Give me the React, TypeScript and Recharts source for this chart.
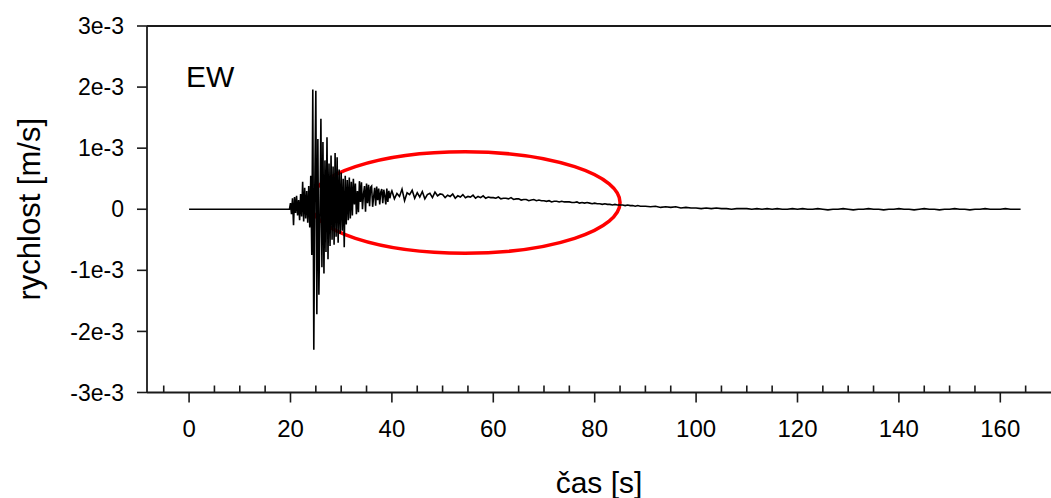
import { LineChart, Line, XAxis, YAxis, ReferenceLine, ReferenceArea } from 'recharts';

const FONT = '"Liberation Sans", Arial, Helvetica, sans-serif';
const INK = '#1a1a1a';

// trace samples are in units of 1e-5 m/s
const VALUE_UNIT = 1e-5;

// before the first arrival the record is flat
const quietTimes = [0, 19.8];
const quietValues = [0, 0];

// onset and strongest shaking, one sample every 0.2 s from 20 s
const burstStart = 20;
const burstStep = 0.2;
const burstValues = [
    10, -8, 18, -26, 20, -6, 22, -10, 15, -18,
    25, -12, 45, -20, 35, -15, 30, -22, 38, -30,
    55, -75, 196, -230, 40, 194, -172, 115, -140, -20,
    148, -95, 110, -105, 80, -70, 118, -82, 75, -60,
    88, -50, 70, -58, 92, -45, 85, -55, 65, -40,
    60, -35, 50, -62, 55, -25, 48, -18, 52, -15,
    45, -10, 50, 8, 42, -8, 30, -5, 46, 12,
    44, 0, 25, 38, -4, 42, 10, 40, 5, 36,
    38, 4, 20, 35, 6, 37, 15, 34, 8, 28,
    33, 10, 32, 22, 8, 34, 12, 30, 18, 26,
];

// slow coda, one sample every 0.5 s from 40 s
const codaStart = 40;
const codaStep = 0.5;
const codaValues = [
    30, 17, 26, 21, 33, 14, 27, 24, 31, 18,
    27, 20, 29, 17, 24, 26, 19, 28, 22, 25,
    24, 19, 23, 21, 25, 18, 22, 20, 24, 19,
    21, 20, 23, 18, 21, 19, 22, 18, 20, 19,
    19, 18, 20, 17, 18, 18, 17, 19, 16, 17,
    17, 15, 16, 16, 14, 15, 16, 14, 15, 14,
    14, 13, 14, 12, 13, 13, 12, 13, 12, 12,
    12, 11, 11, 12, 10, 11, 10, 11, 10, 9,
    10, 9, 9, 8, 9, 8, 8, 7, 8, 7,
    7, 7, 6, 7, 6, 6, 5, 6, 5, 5,
];

// tail, one sample every second from 90 s
const tailStart = 90;
const tailStep = 1;
const tailValues = [
    5, 4, 5, 3, 4, 3, 4, 2, 3, 2,
    2, 1, 2, 1, 2, 1, 1, 0, 1, 1,
    1, 0, 1, 0, 1, 0, 1, 0, 0, 1,
    0, 1, 0, 0, 1, 0, -1, 0, 0, 1,
    0, -1, 0, 0, 1, 0, 0, -1, 0, 0,
    1, 0, 0, -1, 0, 1, 0, 0, -1, 0,
    0, 1, 0, 0, -1, 0, 0, 1, 0, 0,
    0, 1, 0, 0, 0,
];

const xDomain = [-8.3, 170];
const xTicks = [-5, 0, 5, 10, 15, 20, 25, 30, 35, 40, 45, 50, 55, 60, 65, 70, 75, 80, 85, 90, 95, 100, 105, 110, 115, 120, 125, 130, 135, 140, 145, 150, 155, 160, 165];
const xMajorTicks = [0, 20, 40, 60, 80, 100, 120, 140, 160];
const xTickLabels = ['0', '20', '40', '60', '80', '100', '120', '140', '160'];

const yDomain = [-0.003, 0.003];
const yTicks = [-0.003, -0.002, -0.001, 0, 0.001, 0.002, 0.003];
const yTickLabels = ['-3e-3', '-2e-3', '-1e-3', '0', '1e-3', '2e-3', '3e-3'];

// red highlight around the coda (seconds, m/s)
const highlightX = [23.85, 85];
const highlightY = [-0.00072, 0.00094];

const rows: { t: number; v: number }[] = [];
quietTimes.forEach((t, i) => rows.push({ t, v: quietValues[i] * VALUE_UNIT }));
const addSegment = (start: number, step: number, values: number[]) => {
    values.forEach((v, i) => {
        rows.push({ t: Math.round((start + i * step) * 100) / 100, v: v * VALUE_UNIT });
    });
};
addSegment(burstStart, burstStep, burstValues);
addSegment(codaStart, codaStep, codaValues);
addSegment(tailStart, tailStep, tailValues);

function XTick(props: any) {
    const { x, y, payload } = props;
    const idx = xMajorTicks.indexOf(payload.value);
    if (idx >= 0) {
        return (
            <g>
                <line x1={x} x2={x} y1={y} y2={y + 10} stroke={INK} strokeWidth={1.6} />
                <text x={x} y={y + 44} textAnchor="middle" fontSize={24} fontFamily={FONT} fill="#000">
                    {xTickLabels[idx]}
                </text>
            </g>
        );
    }
    return <line x1={x} x2={x} y1={y} y2={y - 7} stroke={INK} strokeWidth={1.6} />;
}

export default function App() {
    return (
        <div style={{ position: 'absolute', left: 0, top: 0, background: '#fff' }}>
            <LineChart width={1051} height={498} data={rows} margin={{ top: 26, right: 0, left: 0, bottom: 45.5 }}>
                <XAxis
                    dataKey="t"
                    type="number"
                    domain={xDomain}
                    allowDataOverflow
                    ticks={xTicks}
                    interval={0}
                    height={60}
                    tickLine={false}
                    tickSize={0}
                    tickMargin={0}
                    tick={<XTick />}
                    axisLine={{ stroke: INK, strokeWidth: 1.8 }}
                    label={{
                        value: 'čas [s]',
                        position: 'bottom',
                        offset: 19,
                        style: { fontSize: 30, fontFamily: FONT, fill: '#000' },
                    }}
                />
                <YAxis
                    type="number"
                    domain={yDomain}
                    ticks={yTicks}
                    interval={0}
                    width={147}
                    tickSize={10}
                    tickMargin={13}
                    tickLine={{ stroke: INK, strokeWidth: 1.6 }}
                    axisLine={{ stroke: INK, strokeWidth: 1.8 }}
                    tick={{ fontSize: 23, fontFamily: FONT, fill: '#000' }}
                    tickFormatter={(v: number) => yTickLabels[yTicks.findIndex((t) => Math.abs(t - v) < 1e-9)]}
                    label={{
                        content: (p: any) => {
                            const vb = p.viewBox;
                            const cx = 29;
                            const cy = vb.y + vb.height / 2;
                            return (
                                <text
                                    x={cx}
                                    y={cy}
                                    transform={`rotate(-90 ${cx} ${cy})`}
                                    textAnchor="middle"
                                    dominantBaseline="central"
                                    fontSize={31}
                                    fontFamily={FONT}
                                    fill="#000"
                                >
                                    rychlost [m/s]
                                </text>
                            );
                        },
                    }}
                />
                <ReferenceLine
                    y={yDomain[1]}
                    stroke={INK}
                    strokeWidth={1.8}
                    label={{
                        content: (p: any) => {
                            const vb = p.viewBox;
                            return (
                                <text x={vb.x + 39} y={vb.y + 61} fontSize={30} fontFamily={FONT} fill="#000">
                                    EW
                                </text>
                            );
                        },
                    }}
                />
                <Line
                    type="linear"
                    dataKey="v"
                    stroke="#000"
                    strokeWidth={1.6}
                    dot={false}
                    activeDot={false}
                    isAnimationActive={false}
                />
                <ReferenceArea
                    x1={highlightX[0]}
                    x2={highlightX[1]}
                    y1={highlightY[0]}
                    y2={highlightY[1]}
                    ifOverflow="visible"
                    shape={(p: any) => (
                        <ellipse
                            cx={p.x + p.width / 2}
                            cy={p.y + p.height / 2}
                            rx={p.width / 2}
                            ry={p.height / 2}
                            fill="none"
                            stroke="#ff0000"
                            strokeWidth={3.5}
                        />
                    )}
                />
            </LineChart>
        </div>
    );
}
